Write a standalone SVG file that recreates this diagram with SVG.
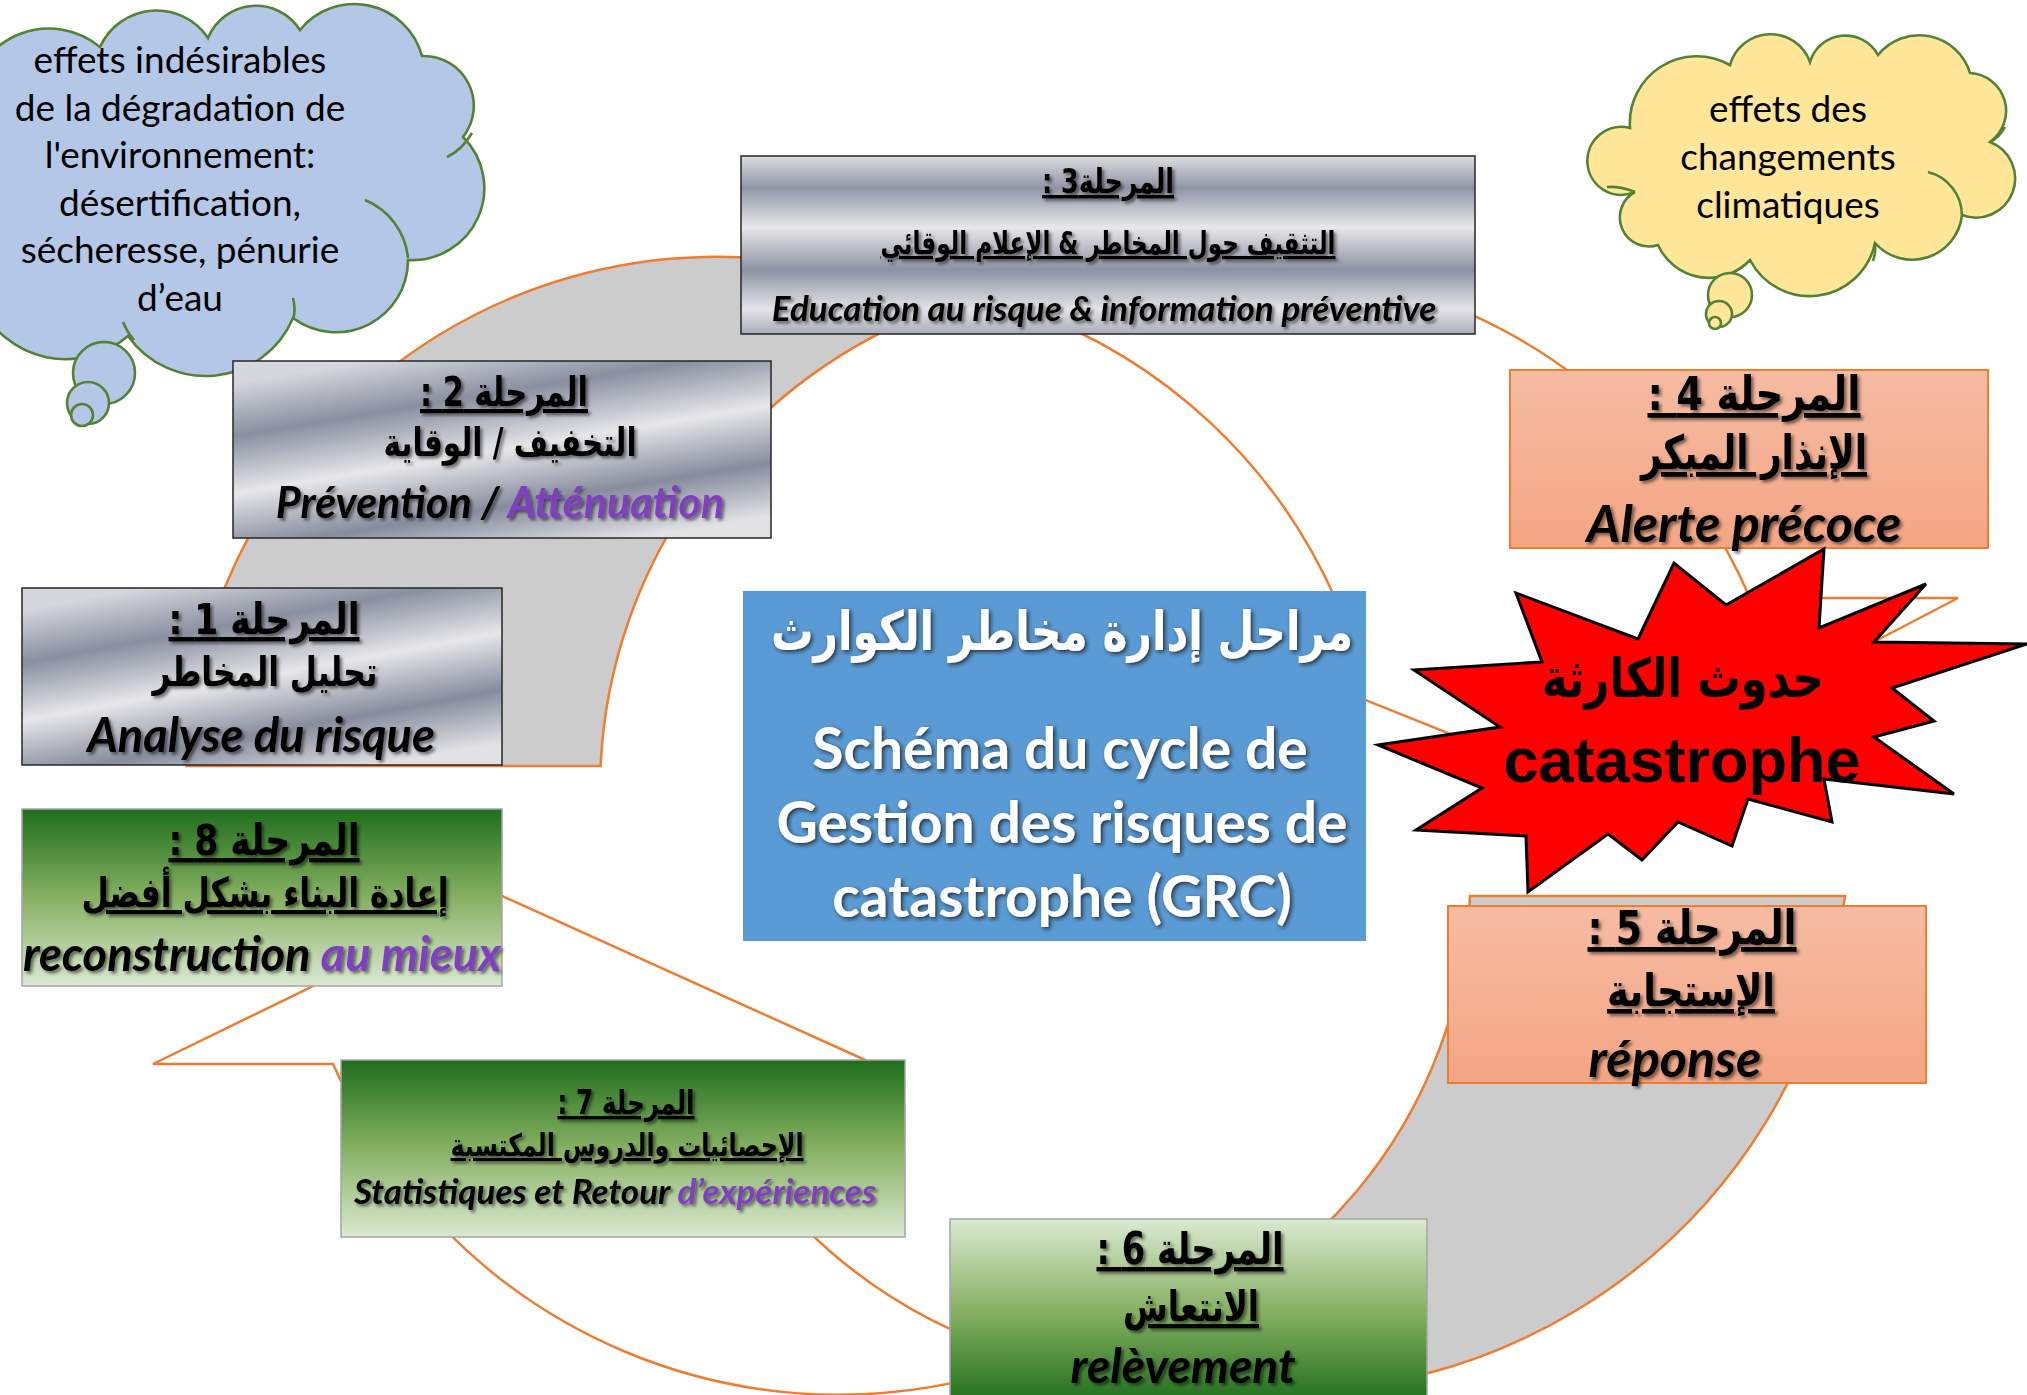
<svg xmlns="http://www.w3.org/2000/svg" width="2027" height="1395" viewBox="0 0 2027 1395">
<style>
.arc{stroke:#ed7d31;stroke-width:2.5;stroke-linejoin:miter}
.gray{fill:#cccccc}
.wht{fill:#ffffff}
.cloud{stroke:#548235;stroke-width:2.6}
.blue{fill:#b4c7e7}
.yel{fill:#ffe699}
.inner{fill:none;stroke:#548235;stroke-width:2.6}
.ctx{font-family:Lato,"Liberation Sans",sans-serif;font-size:37px;fill:#000;text-anchor:middle}
.ar{font-family:"DejaVu Sans",sans-serif;font-weight:bold;fill:#000;text-anchor:middle;direction:rtl}
.u{text-decoration:underline}
.fr{font-family:Lato,"Liberation Sans",sans-serif;font-weight:bold;font-style:italic;fill:#000;text-anchor:middle}
.pu{fill:#7f3fbf}
.silver{stroke:#262626;stroke-width:1.5}
.green{stroke:#a5a5a5;stroke-width:1.5}
.salmon{stroke:#ed7d31;stroke-width:2}
.wt{font-family:Lato,"Liberation Sans",sans-serif;font-weight:bold;fill:#fff;text-anchor:middle}
</style>
<defs>
<linearGradient id="silverD" x1="0.25" y1="0" x2="0.75" y2="1">
<stop offset="0" stop-color="#d6d7dc"/>
<stop offset="0.24" stop-color="#8a8fa0"/>
<stop offset="0.5" stop-color="#e7e7e9"/>
<stop offset="0.76" stop-color="#878c9d"/>
<stop offset="1" stop-color="#e2e2e5"/>
</linearGradient>
<linearGradient id="silverV" x1="0" y1="0" x2="0" y2="1">
<stop offset="0" stop-color="#dcdde0"/>
<stop offset="0.18" stop-color="#9094a5"/>
<stop offset="0.4" stop-color="#e8e8ea"/>
<stop offset="0.64" stop-color="#8d91a2"/>
<stop offset="0.86" stop-color="#e4e4e7"/>
<stop offset="1" stop-color="#a9acb8"/>
</linearGradient>
<linearGradient id="greenDown" x1="0" y1="0" x2="0" y2="1">
<stop offset="0" stop-color="#1f6e1c"/>
<stop offset="0.5" stop-color="#86b062"/>
<stop offset="1" stop-color="#dbe9d1"/>
</linearGradient>
<linearGradient id="greenUp" x1="0" y1="0" x2="0" y2="1">
<stop offset="0" stop-color="#dbe9d1"/>
<stop offset="0.5" stop-color="#86b062"/>
<stop offset="1" stop-color="#1f6e1c"/>
</linearGradient>
<linearGradient id="salmonG" x1="0" y1="0" x2="0" y2="1">
<stop offset="0" stop-color="#f6bca3"/>
<stop offset="1" stop-color="#f4a584"/>
</linearGradient>
<filter id="sh" x="-10%" y="-30%" width="120%" height="160%">
<feDropShadow dx="2.5" dy="2.5" stdDeviation="1.5" flood-color="#000" flood-opacity="0.5"/>
</filter>
<filter id="shw" x="-10%" y="-30%" width="120%" height="160%">
<feDropShadow dx="2" dy="2" stdDeviation="2" flood-color="#1a1a1a" flood-opacity="0.8"/>
</filter>
</defs>

<g id="connectors">
<path id="arc-3-4" class="arc wht" d="M1026,310 A552,552 0 0 1 1750,598 L1958,598 L1590,790 L1111,598 L1335,598 A537,537 0 0 0 1026,310 Z"/>
<path id="arc-6-8" class="arc wht" d="M333,1064 L153,1064 L500,895 L874,1064 L694,1064 A510,510 0 0 0 1034,1359 A552,552 0 0 1 333,1064 Z"/>
<path id="arc-1-3" class="arc gray" d="M186.4,766 A530,530 0 0 1 941,307 A512,512 0 0 0 600.6,766 Z"/>
<path id="arc-5-6" class="arc gray" d="M1470,896 L1845,896 A565,565 0 0 1 1084,1355 A487,487 0 0 0 1470,896 Z"/>
</g>

<g id="cloud-environment">
<path class="cloud blue" d="M-30,95 A80,80 0 0 1 100,47 A62,62 0 0 1 208,38 A52,52 0 0 1 300,30 A70,70 0 0 1 422,56 A50,50 0 0 1 463,137 A72,72 0 0 1 408,260 A72,72 0 0 1 293,318 A95,95 0 0 1 128,336 A95,95 0 0 1 -20,305 Z"/>
<path class="inner" d="M365,200 A70,70 0 0 1 408,258"/>
<path class="inner" d="M447,157 Q462,150 472,133"/>
<path class="inner" d="M293,298 Q296,310 293,320"/>
<path class="inner" d="M123,322 Q127,332 134,340"/>
<circle class="cloud blue" cx="104" cy="373" r="31"/>
<circle class="cloud blue" cx="88" cy="403" r="21"/>
<circle class="cloud blue" cx="82" cy="415" r="11"/>
<text class="ctx" x="180" y="73">effets indésirables</text>
<text class="ctx" x="180" y="121">de la dégradation de</text>
<text class="ctx" x="180" y="168">l'environnement:</text>
<text class="ctx" x="180" y="216">désertification,</text>
<text class="ctx" x="180" y="263">sécheresse, pénurie</text>
<text class="ctx" x="180" y="311">d’eau</text>
</g>

<g id="cloud-climate">
<path class="cloud yel" d="M1635,192 A34,34 0 1 1 1630,128 A67,67 0 0 1 1730,65 A42,42 0 0 1 1810,62 A37,37 0 0 1 1878,55 A53,53 0 0 1 1970,73 A38,38 0 0 1 1990,142 A39,39 0 0 1 1962,215 A50,50 0 0 1 1875,243 A67,67 0 0 1 1750,260 A56,56 0 0 1 1658,245 A29,29 0 0 1 1635,192 Z"/>
<path class="inner" d="M1928,172 A45,45 0 0 1 1962,215"/>
<path class="inner" d="M1990,142 Q1999,138 2005,127"/>
<path class="inner" d="M1875,243 Q1876,252 1873,261"/>
<path class="inner" d="M1635,192 Q1620,186 1607,187"/>
<circle class="cloud yel" cx="1730" cy="295" r="22"/>
<circle class="cloud yel" cx="1719" cy="314" r="13"/>
<circle class="cloud yel" cx="1715" cy="323" r="6"/>
<text class="ctx" x="1788" y="122">effets des</text>
<text class="ctx" x="1788" y="170">changements</text>
<text class="ctx" x="1788" y="218">climatiques</text>
</g>

<g id="stage-3">
<rect class="silver" x="741" y="156" width="734" height="178" fill="url(#silverV)"/>
<g filter="url(#sh)">
<text class="ar u" x="1108" y="193" font-size="34" textLength="132" lengthAdjust="spacingAndGlyphs">المرحلة3 :</text>
<text class="ar u" x="1108" y="254" font-size="32" textLength="455" lengthAdjust="spacingAndGlyphs">التثقيف حول المخاطر &amp; الإعلام الوقائي</text>
<text class="fr" x="1104" y="321" font-size="35">Education au risque &amp; information préventive</text>
</g>
</g>

<g id="stage-2">
<rect class="silver" x="233" y="361" width="538" height="177" fill="url(#silverD)"/>
<g filter="url(#sh)">
<text class="ar u" x="504" y="406" font-size="41" textLength="168" lengthAdjust="spacingAndGlyphs">المرحلة 2 :</text>
<text class="ar" x="510" y="456" font-size="39" textLength="253" lengthAdjust="spacingAndGlyphs">التخفيف / الوقاية</text>
<text class="fr" x="500" y="518" font-size="43">Prévention / <tspan class="pu">Atténuation</tspan></text>
</g>
</g>

<g id="stage-1">
<rect class="silver" x="22" y="588" width="480" height="177" fill="url(#silverD)"/>
<g filter="url(#sh)">
<text class="ar u" x="264" y="634" font-size="43" textLength="191" lengthAdjust="spacingAndGlyphs">المرحلة 1 :</text>
<text class="ar" x="265" y="686" font-size="41" textLength="225" lengthAdjust="spacingAndGlyphs">تحليل المخاطر</text>
<text class="fr" x="261" y="752" font-size="47">Analyse du risque</text>
</g>
</g>

<g id="stage-8">
<rect class="green" x="22" y="809" width="480" height="177" fill="url(#greenDown)"/>
<g filter="url(#sh)">
<text class="ar u" x="264" y="855" font-size="43" textLength="191" lengthAdjust="spacingAndGlyphs">المرحلة 8 :</text>
<text class="ar u" x="265" y="907" font-size="41" textLength="367" lengthAdjust="spacingAndGlyphs">إعادة البناء بشكل أفضل</text>
<text class="fr" x="262" y="971" font-size="47">reconstruction <tspan class="pu">au mieux</tspan></text>
</g>
</g>

<g id="stage-7">
<rect class="green" x="341" y="1060" width="564" height="177" fill="url(#greenDown)"/>
<g filter="url(#sh)">
<text class="ar u" x="626" y="1114" font-size="33" textLength="137" lengthAdjust="spacingAndGlyphs">المرحلة 7 :</text>
<text class="ar u" x="627" y="1156" font-size="31" textLength="353" lengthAdjust="spacingAndGlyphs">الإحصائيات والدروس المكتسبة</text>
<text class="fr" x="615" y="1204" font-size="35">Statistiques et Retour <tspan class="pu">d’expériences</tspan></text>
</g>
</g>

<g id="stage-6">
<rect class="green" x="950" y="1219" width="477" height="185" fill="url(#greenUp)"/>
<g filter="url(#sh)">
<text class="ar u" x="1190" y="1264" font-size="44" textLength="187" lengthAdjust="spacingAndGlyphs">المرحلة 6 :</text>
<text class="ar u" x="1191" y="1321" font-size="42" textLength="136" lengthAdjust="spacingAndGlyphs">الانتعاش</text>
<text class="fr" x="1183" y="1383" font-size="48">relèvement</text>
</g>
</g>

<g id="stage-5">
<rect class="salmon" x="1448" y="906" width="478" height="177" fill="url(#salmonG)"/>
<g filter="url(#sh)">
<text class="ar u" x="1692" y="944" font-size="47" textLength="209" lengthAdjust="spacingAndGlyphs">المرحلة 5 :</text>
<text class="ar u" x="1691" y="1006" font-size="45" textLength="168" lengthAdjust="spacingAndGlyphs">الإستجابة</text>
<text class="fr" x="1675" y="1077" font-size="52">réponse</text>
</g>
</g>

<g id="stage-4">
<rect class="salmon" x="1510" y="370" width="478" height="178" fill="url(#salmonG)"/>
<g filter="url(#sh)">
<text class="ar u" x="1754" y="410" font-size="47" textLength="213" lengthAdjust="spacingAndGlyphs">المرحلة 4 :</text>
<text class="ar u" x="1754" y="469" font-size="47" textLength="226" lengthAdjust="spacingAndGlyphs">الإنذار المبكر</text>
<text class="fr" x="1744" y="542" font-size="52">Alerte précoce</text>
</g>
</g>

<g id="center">
<rect x="743" y="591" width="623" height="350" fill="#5b9bd5"/>
<g filter="url(#shw)">
<text class="ar" x="1062" y="650" font-size="54" textLength="582" lengthAdjust="spacingAndGlyphs" style="fill:#fff">مراحل إدارة مخاطر الكوارث</text>
<text class="wt" x="1060" y="769" font-size="57">Schéma du cycle de</text>
<text class="wt" x="1062" y="843" font-size="57">Gestion des risques de</text>
<text class="wt" x="1062" y="917" font-size="57">catastrophe (GRC)</text>
</g>
</g>

<g id="disaster">
<polygon fill="#ff0000" stroke="#000" stroke-width="3" stroke-linejoin="miter" points="1824,549 1819,628 1926,584 1874,642 2027,644 1892,688 1934,721 1874,737 1954,794 1824,779 1832,822 1748,799 1732,846 1678,822 1642,860 1608,834 1528,892 1526,836 1416,830 1482,788 1378,745 1500,727 1414,670 1542,662 1516,593 1638,639 1674,563 1726,605"/>
<text class="ar" x="1683" y="697" font-size="54" textLength="282" lengthAdjust="spacingAndGlyphs">حدوث الكارثة</text>
<text x="1682" y="782" font-family="'Liberation Sans',Arial,sans-serif" font-weight="bold" font-size="63" text-anchor="middle" fill="#000">catastrophe</text>
</g>
</svg>
